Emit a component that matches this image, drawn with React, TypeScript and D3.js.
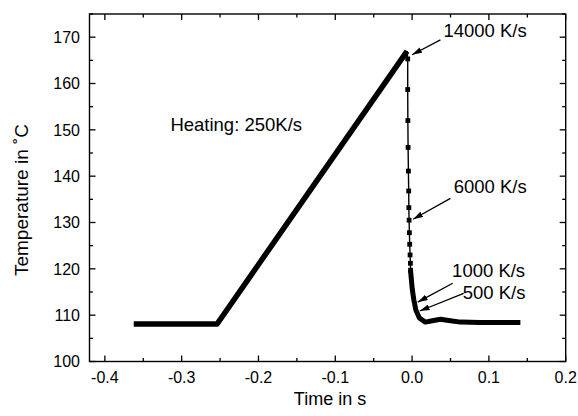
import * as d3 from 'd3';
import { useEffect, useRef } from 'react';

// axis ticks
const xTicks = [-0.4, -0.3, -0.2, -0.1, 0.0, 0.1, 0.2];
const xMinor = [-0.35, -0.25, -0.15, -0.05, 0.05, 0.15];
const yTicks = [100, 110, 120, 130, 140, 150, 160, 170];
const yMinor = [105, 115, 125, 135, 145, 155, 165, 175];

// heating ramp (dense points, drawn as a thick line)
const heatTime = [-0.3624, -0.2539, -0.0065];
const heatTemp = [108.1, 108.1, 167.0];

// fast quench, individual samples visible
const coolTime = [-0.0065, -0.0057, -0.0057, -0.0055, -0.0052, -0.0048, -0.0044, -0.0042, -0.0039, -0.0035, -0.0031, -0.0026, -0.0022, -0.002];
const coolTemp = [167.0, 165.3, 158.7, 152.0, 146.2, 141.1, 136.8, 133.2, 130.5, 127.8, 125.3, 123.0, 121.2, 119.7];

// settling part (dense points again)
const settleTime = [-0.002, -0.0009, 0.0004, 0.0023, 0.0049, 0.0095, 0.0173, 0.0264, 0.0368, 0.0499, 0.0629, 0.089, 0.141];
const settleTemp = [119.7, 117.6, 115.4, 113.3, 111.1, 109.4, 108.5, 108.8, 109.1, 108.8, 108.5, 108.4, 108.4];

// annotations: label, label anchor, arrow tail, arrow head (data coords)
const annoText = ['14000 K/s', '6000 K/s', '1000 K/s', '500 K/s'];
const annoTextAt = [[0.0408, 170.0], [0.0542, 136.3], [0.0521, 118.3], [0.0659, 113.5]];
const annoTail = [[0.0369, 169.4], [0.0499, 135.2], [0.0529, 116.9], [0.0672, 114.7]];
const annoHead = [[0.0, 166.2], [0.0013, 130.7], [0.0073, 112.8], [0.0099, 110.9]];

const W = 578;
const H = 416;

const fmt = (v: number) => v.toFixed(1).replace('\u2212', '-');

const App = () => {
  const svgRef = useRef<SVGSVGElement>(null);

  useEffect(() => {
    const svg = d3.select(svgRef.current);
    svg.selectAll('*').remove();

    const left = 89.5, right = 565.7, top = 14, bottom = 361.5;
    const font = 'Liberation Sans, Arial, sans-serif';

    const x = d3.scaleLinear().domain([-0.42, 0.2]).range([left, right]);
    const y = d3.scaleLinear().domain([100, 175]).range([bottom, top]);

    svg.append('defs')
      .append('marker')
      .attr('id', 'arr')
      .attr('viewBox', '0 0 10 6')
      .attr('refX', 10)
      .attr('refY', 3)
      .attr('markerWidth', 10)
      .attr('markerHeight', 6)
      .attr('markerUnits', 'userSpaceOnUse')
      .attr('orient', 'auto')
      .append('path')
      .attr('d', 'M0,0 L10,3 L0,6 Z')
      .attr('fill', '#000');

    const line = d3.line<[number, number]>().x(d => x(d[0])).y(d => y(d[1]));

    // heating
    svg.append('path')
      .attr('d', line(heatTime.map((t, i) => [t, heatTemp[i]])))
      .attr('fill', 'none')
      .attr('stroke', '#000')
      .attr('stroke-width', 5.5)
      .attr('stroke-linejoin', 'round');

    // quench line + markers
    const cool = coolTime.map((t, i) => [t, coolTemp[i]] as [number, number]);
    svg.append('path')
      .attr('d', line(cool))
      .attr('fill', 'none')
      .attr('stroke', '#000')
      .attr('stroke-width', 1.4);
    svg.selectAll('.pt')
      .data(cool.slice(1))
      .enter()
      .append('rect')
      .attr('class', 'pt')
      .attr('x', d => x(d[0]) - 2.4)
      .attr('y', d => y(d[1]) - 2.4)
      .attr('width', 4.8)
      .attr('height', 4.8)
      .attr('fill', '#000');

    // settling
    svg.append('path')
      .attr('d', line(settleTime.map((t, i) => [t, settleTemp[i]])))
      .attr('fill', 'none')
      .attr('stroke', '#000')
      .attr('stroke-width', 5)
      .attr('stroke-linejoin', 'round');

    // frame
    svg.append('rect')
      .attr('x', left).attr('y', top)
      .attr('width', right - left).attr('height', bottom - top)
      .attr('fill', 'none').attr('stroke', '#000').attr('stroke-width', 1.4);

    const tickG = svg.append('g').attr('stroke', '#000').attr('stroke-width', 1.3);
    const addX = (vals: number[], len: number) => {
      vals.forEach(v => {
        tickG.append('line').attr('x1', x(v)).attr('x2', x(v)).attr('y1', bottom).attr('y2', bottom - len);
        tickG.append('line').attr('x1', x(v)).attr('x2', x(v)).attr('y1', top).attr('y2', top + len);
      });
    };
    const addY = (vals: number[], len: number) => {
      vals.forEach(v => {
        tickG.append('line').attr('y1', y(v)).attr('y2', y(v)).attr('x1', left).attr('x2', left + len);
        tickG.append('line').attr('y1', y(v)).attr('y2', y(v)).attr('x1', right).attr('x2', right - len);
      });
    };
    addX(xTicks, 6);
    addX(xMinor, 3.5);
    addY(yTicks, 6);
    addY(yMinor, 3.5);

    svg.append('g')
      .selectAll('text')
      .data(xTicks)
      .enter()
      .append('text')
      .attr('x', d => x(d))
      .attr('y', 382.5)
      .attr('text-anchor', 'middle')
      .attr('font-family', font)
      .attr('font-size', 16)
      .text(d => fmt(d));

    svg.append('g')
      .selectAll('text')
      .data(yTicks)
      .enter()
      .append('text')
      .attr('x', 80)
      .attr('y', d => y(d) + 5.8)
      .attr('text-anchor', 'end')
      .attr('font-family', font)
      .attr('font-size', 16)
      .text(d => d);

    svg.append('text')
      .attr('x', 330)
      .attr('y', 405)
      .attr('text-anchor', 'middle')
      .attr('font-family', font)
      .attr('font-size', 18)
      .text('Time in s');

    svg.append('text')
      .attr('transform', 'translate(28, 200) rotate(-90)')
      .attr('text-anchor', 'middle')
      .attr('font-family', font)
      .attr('font-size', 19)
      .text('Temperature in \u02DAC');

    svg.append('text')
      .attr('x', x(-0.3147))
      .attr('y', y(149.8))
      .attr('font-family', font)
      .attr('font-size', 18.5)
      .text('Heating: 250K/s');

    annoText.forEach((s, i) => {
      svg.append('text')
        .attr('x', x(annoTextAt[i][0]))
        .attr('y', y(annoTextAt[i][1]))
        .attr('font-family', font)
        .attr('font-size', 18.5)
        .text(s);
      svg.append('line')
        .attr('x1', x(annoTail[i][0])).attr('y1', y(annoTail[i][1]))
        .attr('x2', x(annoHead[i][0])).attr('y2', y(annoHead[i][1]))
        .attr('stroke', '#000')
        .attr('stroke-width', 1.3)
        .attr('marker-end', 'url(#arr)');
    });
  }, []);

  return (
    <svg ref={svgRef} width={W} height={H} style={{ position: 'absolute', left: 0, top: 0, background: '#fff' }}></svg>
  );
};

export default App;
